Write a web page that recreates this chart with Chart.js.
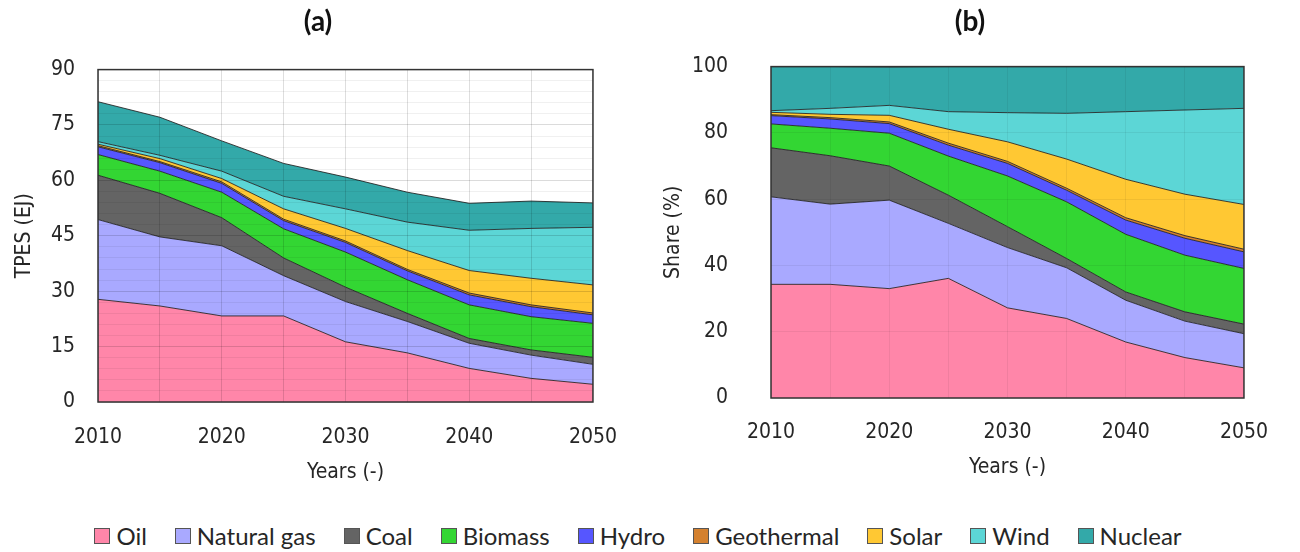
<!DOCTYPE html>
<html>
<head>
<meta charset="utf-8">
<script src="https://cdn.jsdelivr.net/npm/chart.js@4.4.1/dist/chart.umd.min.js"></script>
<style>
  html, body { margin: 0; padding: 0; background: #fff; }
  body { width: 1300px; height: 552px; position: relative; overflow: hidden; }
  #wa { position: absolute; left: 0; top: 0; width: 640px; height: 492px; }
  #wb { position: absolute; left: 650px; top: 0; width: 640px; height: 488px; }
  #legend { position: absolute; left: 0; top: 521px; width: 1276px; display: flex; justify-content: center;
            font-family: Lato, "Open Sans", sans-serif; font-size: 24px; color: #262626; }
  .item { display: flex; align-items: center; margin: 0 14px; }
  .box { width: 16px; height: 16px; border: 1px solid #555; margin-right: 6px; box-sizing: border-box; }
</style>
</head>
<body>
<div id="wa"><canvas id="ca"></canvas></div>
<div id="wb"><canvas id="cb"></canvas></div>
<div id="legend"></div>
<script>
// ---- categories ----
const years = ['2010','2015','2020','2025','2030','2035','2040','2045','2050'];
const seriesNames = ['Oil','Natural gas','Coal','Biomass','Hydro','Geothermal','Solar','Wind','Nuclear'];

// ---- (a) TPES, EJ ----
const oilA        = [27.8, 26.0, 23.3, 23.3, 16.3, 13.3, 9.1, 6.4, 4.8];
const gasA        = [21.6, 18.7, 19.0, 10.9, 10.9, 8.5, 6.8, 6.3, 5.4];
const coalA       = [12.0, 11.8, 7.6, 4.8, 3.9, 2.2, 1.3, 1.4, 1.9];
const biomassA    = [5.6, 6.0, 6.9, 7.9, 9.5, 9.1, 9.1, 9.0, 9.2];
const hydroA      = [2.1, 2.3, 2.4, 2.2, 2.6, 2.4, 2.7, 2.7, 2.3];
const geothermalA = [0.3, 0.3, 0.4, 0.4, 0.4, 0.4, 0.5, 0.5, 0.5];
const solarA      = [0.4, 0.8, 0.9, 2.8, 3.4, 5.1, 6.1, 7.2, 7.6];
const windA       = [0.7, 0.9, 2.0, 3.4, 5.3, 7.7, 10.9, 13.5, 15.6];
const nuclearA    = [10.8, 10.3, 8.2, 8.9, 8.6, 8.1, 7.3, 7.4, 6.6];

// ---- (b) Share, % ----
const oilB        = [34.3, 34.3, 33.0, 36.1, 27.2, 24.0, 16.9, 12.2, 9.1];
const gasB        = [26.4, 24.2, 26.7, 16.6, 18.2, 15.3, 12.6, 11.0, 10.3];
const coalB       = [14.8, 14.6, 10.3, 8.5, 6.3, 2.8, 2.5, 2.8, 2.9];
const biomassB    = [7.2, 8.3, 9.9, 11.8, 15.3, 17.1, 17.4, 17.1, 16.8];
const hydroB      = [2.5, 2.8, 2.9, 3.3, 3.8, 3.5, 4.3, 5.1, 5.0];
const geothermalB = [0.3, 0.4, 0.5, 0.6, 0.6, 0.6, 0.7, 0.8, 0.8];
const solarB      = [0.7, 1.0, 2.0, 4.2, 5.9, 8.8, 11.6, 12.5, 13.5];
const windB       = [0.5, 1.8, 3.0, 5.3, 8.8, 13.8, 20.4, 25.4, 29.0];
const nuclearB    = [13.3, 12.6, 11.6, 13.6, 13.9, 14.1, 13.6, 13.1, 12.6];

// ---- tick labels ----
const yTicksA = [0, 15, 30, 45, 60, 75, 90];
const yTicksB = [0, 20, 40, 60, 80, 100];
const xTickLabels = ['2010','2020','2030','2040','2050'];

const colors = ['#FF86A9','#A9A9FF','#646464','#33D633','#5656FF','#D4812F','#FFC833','#5CD6D6','#33A9A9'];

const seriesA = [oilA, gasA, coalA, biomassA, hydroA, geothermalA, solarA, windA, nuclearA];
const seriesB = [oilB, gasB, coalB, biomassB, hydroB, geothermalB, solarB, windB, nuclearB];

Chart.defaults.font.family = "'Liberation Sans Narrow', 'DejaVu Sans Condensed', 'Arial Narrow', sans-serif";
Chart.defaults.color = '#262626';

function makeDatasets(series) {
  return series.map((d, i) => ({
    label: seriesNames[i],
    data: d,
    backgroundColor: colors[i],
    borderColor: 'rgba(30,30,30,0.85)',
    borderWidth: 1,
    pointRadius: 0,
    tension: 0,
    fill: i === 0 ? 'origin' : '-1'
  }));
}

const framePlugin = {
  id: 'frame',
  afterDraw(chart) {
    const a = chart.chartArea, ctx = chart.ctx;
    ctx.save();
    ctx.strokeStyle = '#333';
    ctx.lineWidth = 1.5;
    ctx.strokeRect(a.left, a.top, a.right - a.left, a.bottom - a.top);
    ctx.restore();
  }
};

function makeChart(id, cfg) {
  return new Chart(document.getElementById(id), {
    type: 'line',
    data: { labels: years, datasets: makeDatasets(cfg.series) },
    plugins: [framePlugin],
    options: {
      responsive: true,
      maintainAspectRatio: false,
      animation: false,
      layout: { padding: { left: cfg.padLeft, right: cfg.padRight, top: 0, bottom: 0 } },
      plugins: {
        legend: { display: false },
        tooltip: { enabled: false },
        title: {
          display: true, text: cfg.title,
          font: { family: 'Lato, "Open Sans", sans-serif', size: 28, weight: 'bold' },
          color: '#111',
          padding: { top: 5, bottom: cfg.titlePadBottom }
        }
      },
      scales: {
        x: {
          type: 'category',
          offset: false,
          border: { display: false },
          grid: { color: cfg.vGrid, z: 1, drawTicks: false },
          ticks: {
            autoSkip: false, maxRotation: 0, padding: cfg.xTickPad,
            font: { size: 21 },
            callback: function (v) {
              const l = this.getLabelForValue(v);
              return xTickLabels.includes(l) ? l : '';
            }
          },
          title: { display: true, text: 'Years (-)', font: { size: 21 }, padding: { top: 0, bottom: cfg.xTitlePad } },
          afterFit: s => { s.height = 90; }
        },
        y: {
          stacked: true,
          min: 0, max: cfg.max,
          border: { display: false },
          grid: {
            z: 1, drawTicks: false,
            color: ctx => cfg.yTicks.includes(ctx.tick.value) ? cfg.hMajor : cfg.hMinor
          },
          ticks: {
            stepSize: cfg.step, autoSkip: false, padding: cfg.yTickPad,
            font: { size: 21 },
            callback: v => cfg.yTicks.includes(v) ? String(v) : ''
          },
          title: { display: true, text: cfg.yTitle, font: { size: 21 }, padding: { top: cfg.yTitlePad, bottom: 0 } },
          afterFit: s => { s.width = cfg.yWidth; }
        }
      }
    }
  });
}

makeChart('ca', {
  series: seriesA, title: '(a)', max: 90, step: 3, yTicks: yTicksA,
  yTitle: 'TPES (EJ)', padLeft: 41, yWidth: 57, padRight: 45, titlePadBottom: 31,
  xTickPad: 23, xTitlePad: 7, yTickPad: 23, yTitlePad: -29,
  vGrid: 'rgba(0,0,0,0.13)', hMajor: 'rgba(0,0,0,0.14)', hMinor: 'rgba(0,0,0,0.06)'
});

makeChart('cb', {
  series: seriesB, title: '(b)', max: 100, step: 20, yTicks: yTicksB,
  yTitle: 'Share (%)', padLeft: 25, yWidth: 96, padRight: 25, titlePadBottom: 28,
  xTickPad: 22, xTitlePad: 8, yTickPad: 43, yTitlePad: -14,
  vGrid: 'rgba(0,0,0,0.06)', hMajor: 'rgba(0,0,0,0.06)', hMinor: 'rgba(0,0,0,0.06)'
});

// ---- shared legend ----
const legend = document.getElementById('legend');
seriesNames.forEach((n, i) => {
  const it = document.createElement('div'); it.className = 'item';
  const b = document.createElement('div'); b.className = 'box'; b.style.background = colors[i];
  const t = document.createElement('span'); t.textContent = n;
  it.appendChild(b); it.appendChild(t); legend.appendChild(it);
});
</script>
</body>
</html>
